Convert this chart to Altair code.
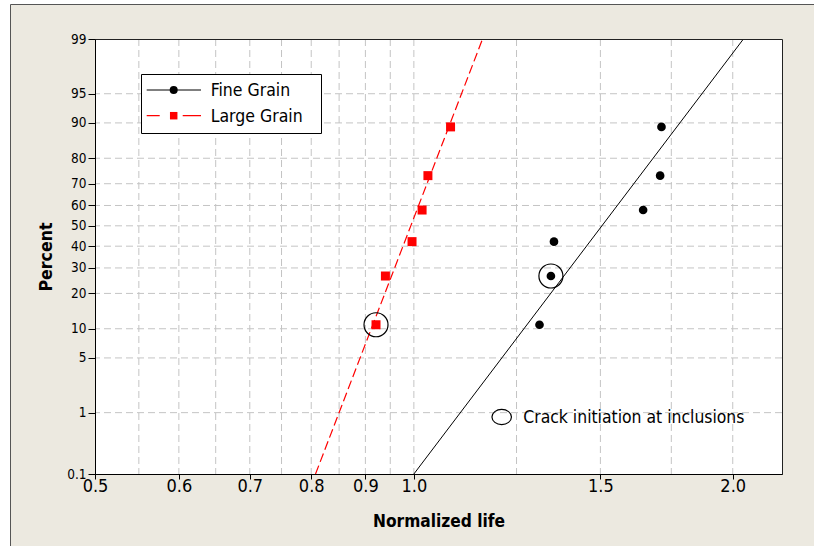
import altair as alt
import pandas as pd
from statistics import NormalDist

_nd = NormalDist()


def to_z(pct):
    """Normal-probability (lognormal plot) position of a percentage."""
    return _nd.inv_cdf(pct / 100.0)


# ---------------- data ----------------
series_names = ["Fine Grain", "Large Grain"]
fine_life = [1.314, 1.347, 1.356, 1.646, 1.708, 1.713]
fine_pct = [10.9, 26.6, 42.2, 57.8, 73.4, 89.1]
large_life = [0.921, 0.940, 0.996, 1.018, 1.031, 1.083]
large_pct = [10.9, 26.6, 42.2, 57.8, 73.4, 89.1]
fine_fit_life = [1.000, 2.047]
fine_fit_pct = [0.1, 99.0]
large_fit_life = [0.8075, 1.161]
large_fit_pct = [0.1, 99.0]
inclusion_life = [0.921, 1.347]
inclusion_pct = [10.9, 26.6]
x_tick_values = [0.5, 0.6, 0.7, 0.8, 0.9, 1.0, 1.5, 2.0]
x_grid_values = [0.55, 0.6, 0.65, 0.7, 0.75, 0.8, 0.85, 0.9, 0.95, 1.0, 1.25, 1.5, 1.75, 2.0]
y_tick_labels = ["0.1", "1", "5", "10", "20", "30", "40", "50", "60", "70", "80", "90", "95", "99"]
y_grid_labels = ["1", "5", "10", "20", "30", "40", "50", "60", "70", "80", "90", "95"]
annotation_text = "Crack initiation at inclusions"
x_title = "Normalized life"
y_title = "Percent"
x_domain = [0.5, 2.226]
y_domain_pct = [0.1, 99.0]

# ---------------- styling ----------------
W, H = 687, 435
FONT = "DejaVu Sans Condensed, Liberation Sans, sans-serif"
BEIGE = "#ECE9E0"
GRID = "#C4C4C4"
RED = "#FF0000"


def frame(life, pct):
    return pd.DataFrame({"life": life, "z": [to_z(p) for p in pct]})


y_tick_z = [to_z(float(v)) for v in y_tick_labels]
label_expr = "''"
for zv, lab in reversed(list(zip(y_tick_z, y_tick_labels))):
    label_expr = f"abs(datum.value - ({zv:.6f})) < 0.0001 ? '{lab}' : ({label_expr})"

X_SCALE = alt.Scale(type="log", domain=x_domain, nice=False)
Y_SCALE = alt.Scale(type="linear", domain=[to_z(v) for v in y_domain_pct], nice=False, zero=False)

X_AXIS = alt.Axis(
    values=x_tick_values, format=".1f", title=x_title, grid=False, zindex=1,
    domainColor="black", tickColor="black", tickSize=5, tickWidth=1,
    labelFont=FONT, labelFontSize=18, labelColor="black", labelPadding=12.4,
    labelBaseline="alphabetic", labelFlush=False, labelOverlap=False, labelBound=False,
    titleFont=FONT, titleFontSize=17.2, titleFontWeight="bold", titleColor="black",
    titleBaseline="alphabetic", titleY=52.4,
)
Y_AXIS = alt.Axis(
    values=y_tick_z, labelExpr=label_expr, title=y_title, grid=False, zindex=1,
    domainColor="black", tickColor="black", tickSize=7, tickWidth=1,
    labelFont=FONT, labelFontSize=13.5, labelColor="black", labelPadding=2,
    labelFlush=False, labelOverlap=False, labelBound=False,
    titleFont=FONT, titleFontSize=17.6, titleFontWeight="bold", titleColor="black",
    titleBaseline="alphabetic", titleX=-44, titleAngle=270,
)


def xenc():
    return alt.X("life:Q", scale=X_SCALE, axis=X_AXIS)


def yenc():
    return alt.Y("z:Q", scale=Y_SCALE, axis=Y_AXIS)


one = pd.DataFrame({"k": [0]})

# panel background (beige frame with a dark edge) and white plot area
panel = alt.Chart(one).mark_rect(fill=BEIGE, stroke="#555555", strokeWidth=1).encode(
    x=alt.value(-84.5), x2=alt.value(W + 300), y=alt.value(-34.5), y2=alt.value(H + 300)
)
plot_bg = alt.Chart(one).mark_rect(fill="white").encode(
    x=alt.value(0), x2=alt.value(W), y=alt.value(0), y2=alt.value(H)
)

vgrid = alt.Chart(pd.DataFrame({"life": x_grid_values})).mark_rule(
    color=GRID, strokeDash=[7, 4], strokeWidth=1
).encode(x=xenc())
hgrid = alt.Chart(pd.DataFrame({"z": [to_z(float(v)) for v in y_grid_labels]})).mark_rule(
    color=GRID, strokeDash=[7, 4], strokeWidth=1
).encode(y=yenc())

fine_fit = alt.Chart(frame(fine_fit_life, fine_fit_pct)).mark_line(
    color="black", strokeWidth=1
).encode(x=xenc(), y=yenc())
large_fit = alt.Chart(frame(large_fit_life, large_fit_pct)).mark_line(
    color=RED, strokeWidth=1.2, strokeDash=[9, 4]
).encode(x=xenc(), y=yenc())

fine_pts = alt.Chart(frame(fine_life, fine_pct)).mark_point(
    shape="circle", filled=True, size=75, color="black", opacity=1
).encode(x=xenc(), y=yenc())
large_pts = alt.Chart(frame(large_life, large_pct)).mark_point(
    shape="square", filled=True, size=81, color=RED, opacity=1
).encode(x=xenc(), y=yenc())
incl = alt.Chart(frame(inclusion_life, inclusion_pct)).mark_point(
    shape="circle", filled=False, size=576, color="black", strokeWidth=1.2, opacity=1
).encode(x=xenc(), y=yenc())

# legend box
leg_box = alt.Chart(one).mark_rect(fill="white", stroke="black", strokeWidth=1).encode(
    x=alt.value(46.5), x2=alt.value(226.5), y=alt.value(35.5), y2=alt.value(94.5)
)
leg_line1 = alt.Chart(one).mark_rule(color="black", strokeWidth=1).encode(
    x=alt.value(51.7), x2=alt.value(106), y=alt.value(51)
)
leg_dot1 = alt.Chart(one).mark_point(shape="circle", filled=True, size=64, color="black", opacity=1).encode(
    x=alt.value(78.7), y=alt.value(51)
)
leg_txt1 = alt.Chart(one).mark_text(
    align="left", baseline="middle", font=FONT, fontSize=17.5, color="black"
).encode(x=alt.value(115.7), y=alt.value(52), text=alt.value(series_names[0]))
leg_line2 = alt.Chart(one).mark_rule(color=RED, strokeWidth=1.2, strokeDash=[13, 23, 18.3, 100]).encode(
    x=alt.value(51.7), x2=alt.value(106), y=alt.value(76.7)
)
leg_sq2 = alt.Chart(one).mark_point(shape="square", filled=True, size=56, color=RED, opacity=1).encode(
    x=alt.value(78.7), y=alt.value(76.7)
)
leg_txt2 = alt.Chart(one).mark_text(
    align="left", baseline="middle", font=FONT, fontSize=17.5, color="black"
).encode(x=alt.value(115.7), y=alt.value(78), text=alt.value(series_names[1]))

# annotation
ellipse_path = "M1,0 A1,0.78 0 1,1 -1,0 A1,0.78 0 1,1 1,0 Z"
ann_sym = alt.Chart(one).mark_point(
    shape=ellipse_path, filled=False, size=380, color="black", strokeWidth=1.2, opacity=1
).encode(x=alt.value(406.7), y=alt.value(378))
ann_txt = alt.Chart(one).mark_text(
    align="left", baseline="middle", font=FONT, fontSize=17.4, color="black"
).encode(x=alt.value(428.3), y=alt.value(379), text=alt.value(annotation_text))

border = alt.Chart(one).mark_rect(fill="transparent", stroke="#222222", strokeWidth=1).encode(
    x=alt.value(0.5), x2=alt.value(W + 0.5), y=alt.value(0.5), y2=alt.value(H + 0.5)
)

chart = alt.layer(
    panel, plot_bg, vgrid, hgrid, large_fit, fine_fit, incl, fine_pts, large_pts,
    leg_box, leg_line1, leg_dot1, leg_txt1, leg_line2, leg_sq2, leg_txt2,
    ann_sym, ann_txt, border,
).properties(
    width=W, height=H, autosize="none",
    padding={"left": 95, "top": 39, "right": 32, "bottom": 72},
).configure(
    background="white",
).configure_view(
    stroke="transparent",
)

chart.save("out.html", embed_options={"renderer": "svg", "actions": False})
